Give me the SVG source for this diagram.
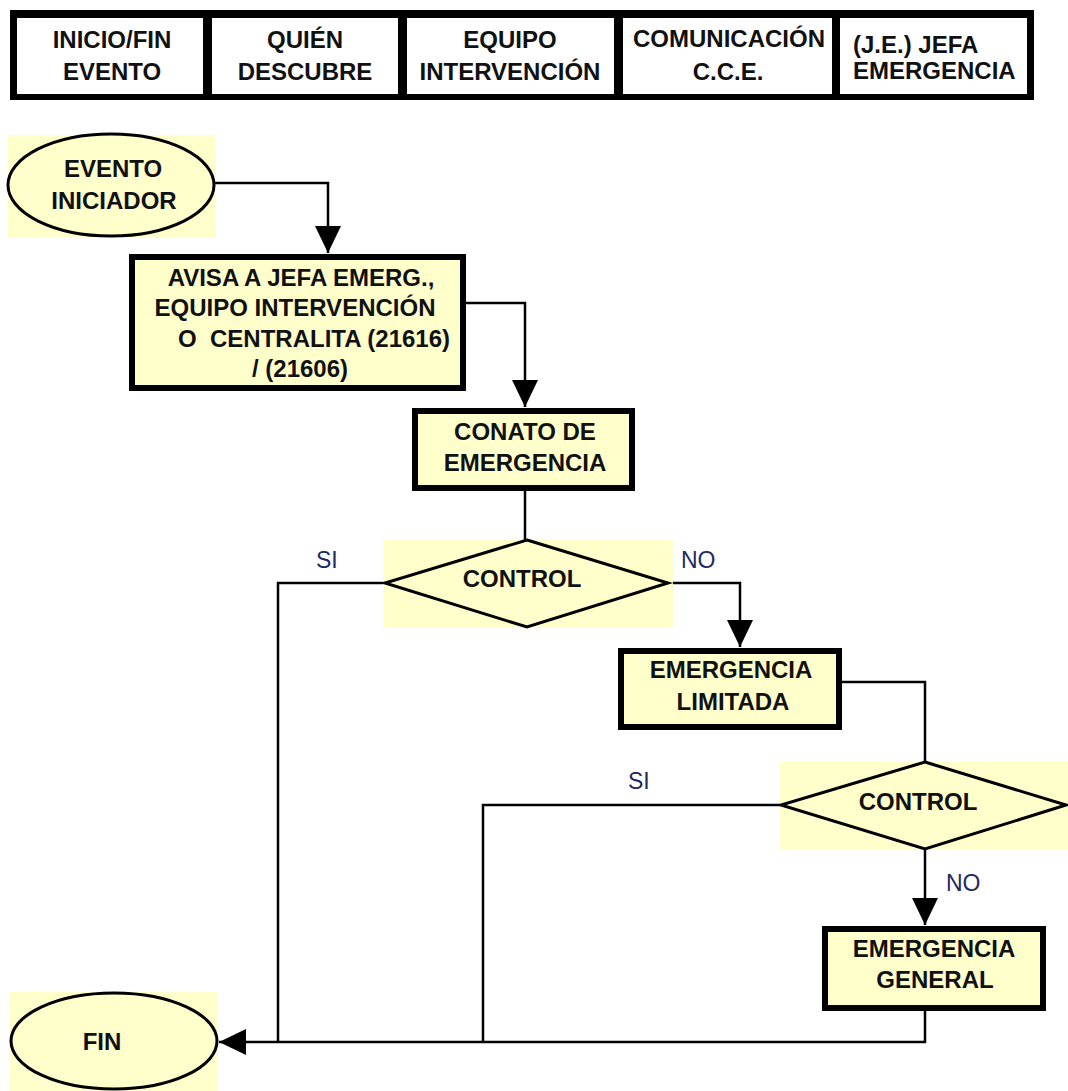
<svg xmlns="http://www.w3.org/2000/svg" width="1068" height="1091" viewBox="0 0 1068 1091">
<style>
  .hdr { fill: #ffffff; }
  .t { font-family: "Liberation Sans", Arial, sans-serif; font-weight: bold; font-size: 24px; fill: #111111; text-anchor: middle; }
  .lbl { font-family: "Liberation Sans", Arial, sans-serif; font-size: 23px; fill: #1f2a60; }
  .bg { fill: #ffffcc; }
  .box { fill: #ffffcc; stroke: #000; stroke-width: 6; }
  .oval { fill: #ffffcc; stroke: #000; stroke-width: 3; }
  .dia { fill: #ffffcc; stroke: #000; stroke-width: 3; }
  .wire { fill: none; stroke: #000; stroke-width: 2.5; }
</style>
<defs>
  <marker id="arr" markerUnits="userSpaceOnUse" markerWidth="28" markerHeight="26" refX="27" refY="13" orient="auto">
    <path d="M0,0 L27,13 L0,26 Z" fill="#000"/>
  </marker>
</defs>
<rect width="1068" height="1091" fill="#ffffff"/>

<g id="header">
  <rect x="10" y="10" width="1024" height="90" fill="#000"/>
  <rect class="hdr" x="17" y="18" width="186" height="76"/>
  <rect class="hdr" x="212" y="18" width="186" height="76"/>
  <rect class="hdr" x="407" y="18" width="207" height="76"/>
  <rect class="hdr" x="623" y="18" width="209" height="76"/>
  <rect class="hdr" x="840" y="18" width="187" height="76"/>
  <text class="t" x="112" y="48">INICIO/FIN</text>
  <text class="t" x="112" y="80">EVENTO</text>
  <text class="t" x="305" y="48">QUIÉN</text>
  <text class="t" x="305" y="80">DESCUBRE</text>
  <text class="t" x="510" y="48">EQUIPO</text>
  <text class="t" x="510" y="80">INTERVENCIÓN</text>
  <text class="t" x="729" y="47">COMUNICACIÓN</text>
  <text class="t" x="728" y="80">C.C.E.</text>
  <text class="t" x="853" y="53" style="text-anchor:start">(J.E.) JEFA</text>
  <text class="t" x="853" y="79" style="text-anchor:start">EMERGENCIA</text>
</g>

<g id="connectors">
  <path class="wire" d="M215,183 H328 V253" marker-end="url(#arr)"/>
  <path class="wire" d="M466,303 H525 V407" marker-end="url(#arr)"/>
  <path class="wire" d="M525,491 V540"/>
  <path class="wire" d="M385,583 H278 V1042"/>
  <path class="wire" d="M668,583 H740 V647" marker-end="url(#arr)"/>
  <path class="wire" d="M842,682 H925 V762"/>
  <path class="wire" d="M780,805 H483 V1042"/>
  <path class="wire" d="M925,850 V925" marker-end="url(#arr)"/>
  <path class="wire" d="M925,1011 V1042 H219" marker-end="url(#arr)"/>
  <text class="lbl" x="316" y="568">SI</text>
  <text class="lbl" x="681" y="568">NO</text>
  <text class="lbl" x="628" y="789">SI</text>
  <text class="lbl" x="946" y="891">NO</text>
</g>

<g id="evento-iniciador">
  <rect class="bg" x="8" y="135" width="207" height="102"/>
  <ellipse class="oval" cx="111" cy="185" rx="103" ry="51"/>
  <text class="t" x="113" y="177">EVENTO</text>
  <text class="t" x="114" y="209">INICIADOR</text>
</g>

<g id="avisa">
  <rect class="box" x="132" y="257" width="331" height="131"/>
  <text class="t" x="301" y="286">AVISA A JEFA EMERG.,</text>
  <text class="t" x="295" y="316">EQUIPO INTERVENCIÓN</text>
  <text class="t" x="314" y="347" xml:space="preserve">O  CENTRALITA (21616)</text>
  <text class="t" x="300" y="377">/ (21606)</text>
</g>

<g id="conato">
  <rect class="box" x="415" y="411" width="217" height="77"/>
  <text class="t" x="525" y="440">CONATO DE</text>
  <text class="t" x="525" y="471">EMERGENCIA</text>
</g>

<g id="control-1">
  <rect class="bg" x="383" y="540" width="290" height="88"/>
  <polygon class="dia" points="527,540 668,583 527,627 385,583"/>
  <text class="t" x="522" y="587">CONTROL</text>
</g>

<g id="emergencia-limitada">
  <rect class="box" x="621" y="651" width="218" height="76"/>
  <text class="t" x="731" y="678">EMERGENCIA</text>
  <text class="t" x="733" y="710">LIMITADA</text>
</g>

<g id="control-2">
  <rect class="bg" x="780" y="762" width="288" height="88"/>
  <polygon class="dia" points="925,762 1066,805 925,849 781,805"/>
  <text class="t" x="918" y="810">CONTROL</text>
</g>

<g id="emergencia-general">
  <rect class="box" x="825" y="929" width="218" height="79"/>
  <text class="t" x="934" y="957">EMERGENCIA</text>
  <text class="t" x="935" y="988">GENERAL</text>
</g>

<g id="fin">
  <rect class="bg" x="10" y="992" width="208" height="99"/>
  <ellipse class="oval" cx="114" cy="1041" rx="103" ry="48"/>
  <text class="t" x="102" y="1050">FIN</text>
</g>
</svg>
